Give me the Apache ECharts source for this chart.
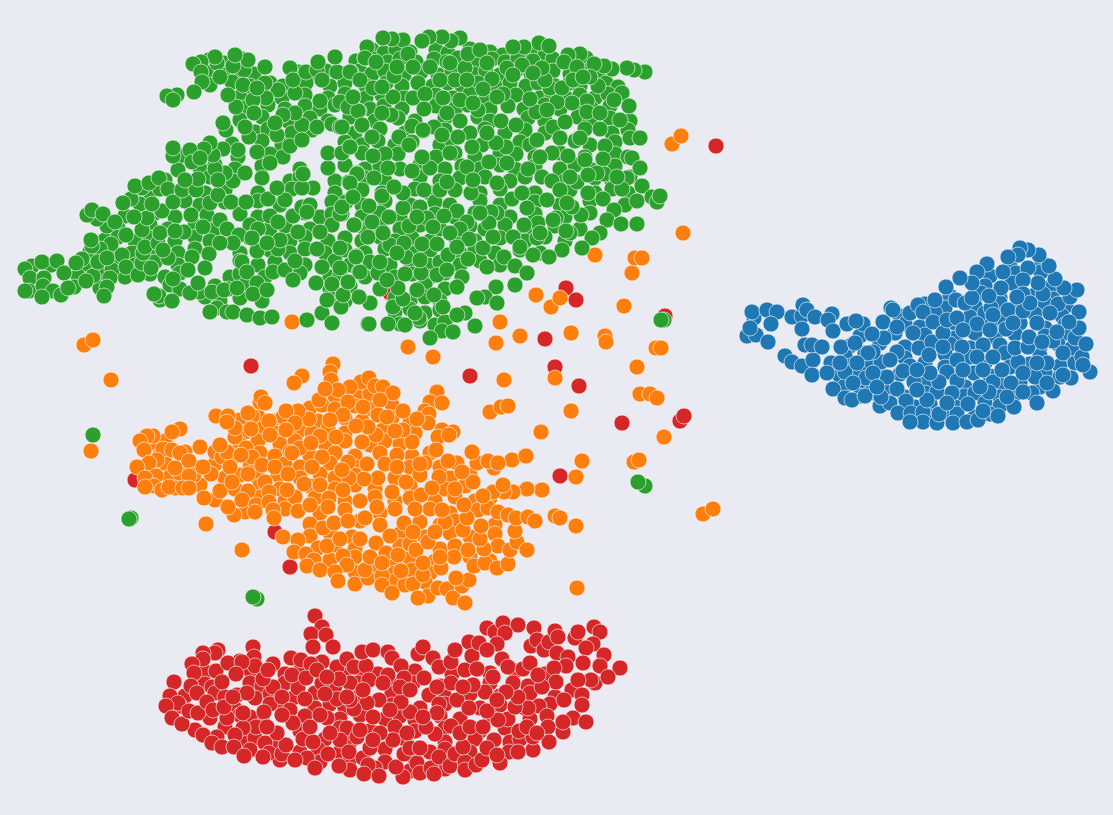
<!DOCTYPE html>
<html>
<head>
<meta charset="utf-8">
<title>clusters</title>
<script src="https://cdn.jsdelivr.net/npm/echarts@6/dist/echarts.min.js"></script>
<style>
html,body{margin:0;padding:0;background:#eaeaf2}
#chart{width:1113px;height:815px}
</style>
</head>
<body>
<div id="chart"></div>
<script>
// values, axes run over the embedding space
const blue = [[1010,266],[1042,263],[990,276],[1016,273],[1041,272],[985,286],[1012,283],[1051,287],[950,296],[981,293],[1000,298],[1035,295],[1053,299],[925,304],[945,308],[975,306],[1000,303],[1015,308],[1045,303],[1066,306],[900,316],[935,313],[970,317],[985,313],[1000,318],[1035,314],[1062,316],[905,324],[920,327],[955,323],[990,326],[1020,323],[1045,328],[1065,325],[860,336],[895,333],[925,335],[955,338],[975,333],[995,337],[1015,334],[1045,336],[1065,333],[850,346],[880,343],[905,347],[950,344],[970,348],[1000,345],[1040,347],[1058,344],[845,356],[865,353],[905,358],[945,354],[970,357],[1005,353],[1040,356],[1070,358],[850,366],[870,363],[910,366],[925,363],[945,367],[985,363],[1010,367],[1030,364],[1060,366],[1075,363],[840,376],[860,373],[880,377],[900,374],[925,377],[960,374],[990,376],[1045,373],[1060,377],[845,386],[865,383],[890,387],[925,384],[965,387],[1000,385],[1020,383],[1040,387],[860,396],[870,393],[905,397],[925,393],[965,396],[975,393],[1000,397],[1015,394],[880,406],[890,403],[915,407],[930,404],[955,407],[985,403],[1000,406],[930,416],[945,413],[975,417],[990,414],
[754,318],[752,312],[767,310],[777,312],[771,324],[747,336],[756,335],[768,342],[750,328],[792,317],[802,316],[803,305],[807,310],[815,317],[802,329],[832,314],[828,320],[833,331],[847,324],[863,324],[856,321],[785,356],[792,362],[802,366],[813,360],[812,375],[805,345],[812,345],[822,347],[831,363],[827,373],[841,347],[855,343],[845,372],[833,389],[845,398],[852,400],[865,396],[866,378],[881,362],[873,352],[868,353],[884,338],[872,334],[883,322],[891,308],[893,310],[897,327],[910,313],[918,305],[923,312],[933,322],[935,300],[913,333],[897,352],[919,348],[932,342],[929,355],[943,333],[947,320],[957,318],[956,300],[946,287],[965,303],[972,298],[977,324],[991,308],[1008,310],[1023,311],[1006,329],[993,315],[983,345],[962,347],[977,357],[947,372],[903,371],[881,397],[897,389],[914,382],[906,401],[898,413],[911,413],[923,412],[923,422],[910,422],[937,423],[939,414],[937,392],[939,382],[957,381],[952,393],[957,414],[953,423],[967,422],[978,420],[968,404],[974,373],[993,382],[989,392],[998,416],[983,411],[1014,407],[1011,383],[1002,370],[1018,362],[993,357],[1015,348],[1028,347],[1029,337],[1053,341],[1072,348],[1075,338],[1082,357],[1086,344],[1090,372],[1071,378],[1063,375],[1053,391],[1047,363],[1035,377],[1032,393],[1037,403],[1023,392],[1079,312],[1079,328],[1069,322],[1058,304],[1070,297],[1077,290],[1064,288],[1055,279],[1043,294],[1038,283],[1049,266],[1039,255],[1028,250],[1020,248],[1018,255],[1028,268],[1023,280],[1008,257],[1003,272],[987,264],[977,272],[972,283],[960,278],[1001,288],[989,296],[1023,294],[1057,332],[1042,342],[1063,353],[1083,365],[1013,323],[1037,323],[1050,313],[1030,303],[1017,297],[990,330],[963,330],[943,347],[957,360],[930,373],[917,370],[887,377],[873,373],[857,363],[840,363],[853,383],[877,387],[890,360],[980,387],[1007,397],[1047,383],[1023,373],[1037,363],[983,370],[963,370],[947,403],[927,400],[917,390]];

const red = [[716,146],[566,288],[576,300],[545,339],[665,316],[470,376],[555,367],[579,386],[622,423],[680,421],[684,416],[560,476],[251,366],[390,293],[135,480],[275,532],[290,567],[410,578],
[240,661],[291,658],[205,672],[250,670],[285,674],[300,671],[345,673],[360,670],[378,674],[415,671],[452,674],[465,670],[490,673],[515,671],[545,674],[205,684],[212,687],[250,683],[262,686],[285,683],[335,686],[358,683],[395,686],[413,683],[440,686],[490,683],[528,686],[595,683],[185,696],[215,693],[225,697],[270,694],[295,697],[315,693],[360,696],[392,693],[445,697],[470,694],[500,696],[530,693],[555,697],[180,706],[235,709],[280,705],[315,708],[330,704],[345,708],[392,705],[420,708],[445,704],[480,708],[500,705],[525,708],[550,704],[210,718],[240,715],[262,719],[305,716],[340,719],[360,715],[385,719],[400,716],[415,720],[440,716],[460,719],[490,716],[530,719],[195,730],[225,727],[300,731],[340,728],[370,731],[395,727],[415,731],[445,728],[480,731],[505,728],[245,740],[255,738],[275,742],[325,739],[350,742],[405,739],[445,742],[475,739],[510,742],[520,739],[250,750],[300,752],[318,749],[340,752],[385,749],[430,752],[445,749],[470,752],[280,760],[320,762],[350,759],[385,762],[415,759],[445,762],[350,770],[375,768],[410,771],[445,769],
[315,616],[322,627],[311,634],[326,635],[313,647],[333,647],[301,660],[322,662],[311,664],[253,647],[254,657],[255,666],[218,650],[215,653],[203,653],[203,659],[192,664],[216,671],[228,663],[242,662],[236,674],[194,673],[222,682],[191,686],[174,682],[197,693],[170,696],[178,703],[166,706],[172,718],[182,724],[189,711],[198,713],[207,702],[213,710],[227,718],[224,707],[237,695],[255,698],[273,687],[263,679],[273,664],[268,670],[247,693],[270,704],[250,717],[264,712],[282,697],[298,688],[292,675],[306,678],[322,683],[337,667],[347,659],[354,667],[366,666],[362,652],[373,650],[388,652],[392,658],[401,666],[369,680],[350,683],[339,679],[388,675],[404,678],[418,654],[423,647],[433,658],[439,667],[451,662],[455,650],[469,642],[472,656],[479,643],[487,628],[495,632],[503,623],[518,625],[505,633],[497,644],[487,650],[502,659],[508,667],[523,669],[534,628],[531,646],[537,640],[530,663],[544,650],[549,642],[555,631],[558,637],[575,638],[578,632],[594,627],[600,632],[593,644],[586,648],[557,653],[568,657],[604,655],[600,666],[620,668],[608,677],[591,680],[583,663],[566,666],[554,668],[556,682],[542,687],[538,675],[572,690],[578,680],[582,695],[564,700],[582,705],[539,706],[528,708],[547,716],[548,727],[563,732],[573,718],[563,722],[586,722],[549,742],[533,750],[533,737],[519,731],[527,727],[508,719],[498,720],[515,707],[518,697],[513,683],[506,692],[487,711],[485,692],[473,685],[477,669],[457,700],[451,683],[424,678],[429,695],[439,704],[469,708],[451,726],[435,734],[426,727],[410,712],[401,702],[379,700],[367,703],[373,717],[354,709],[337,699],[325,694],[305,699],[290,710],[293,723],[282,715],[256,727],[243,728],[235,735],[217,737],[203,735],[212,743],[222,747],[234,747],[244,756],[265,743],[269,753],[263,757],[282,754],[286,745],[303,739],[313,742],[327,718],[320,715],[347,728],[357,737],[340,740],[328,754],[307,758],[295,760],[315,768],[339,766],[349,752],[363,758],[370,748],[368,765],[364,774],[379,776],[403,777],[396,767],[404,754],[417,763],[420,773],[431,768],[434,774],[439,757],[450,766],[455,754],[465,762],[465,770],[476,765],[482,760],[463,747],[393,740],[380,733],[373,740],[410,748],[420,748],[494,740],[487,748],[509,752],[500,763],[497,755],[518,752],[537,733],[350,700],[383,683],[400,687],[407,733],[437,713],[460,733],[470,727],[423,717],[390,710],[360,730],[330,733],[310,727],[277,733],[267,727],[243,713],[233,697],[317,670],[327,677],[347,697],[363,690],[410,690],[437,687],[463,687],[493,677],[497,700],[483,727]];

const orange = [[84,345],[93,340],[111,380],[91,451],[408,347],[433,357],[500,322],[496,343],[520,336],[571,333],[605,336],[606,342],[536,295],[551,307],[560,298],[624,306],[595,255],[632,273],[635,258],[642,258],[683,233],[672,144],[681,136],[656,348],[661,348],[637,367],[640,394],[650,394],[657,398],[664,437],[555,378],[504,380],[571,411],[490,412],[501,407],[508,406],[541,432],[634,462],[639,460],[576,477],[582,461],[525,456],[541,490],[576,526],[577,588],[703,514],[713,509],[292,322],
[335,396],[345,393],[358,397],[370,394],[310,408],[322,405],[335,409],[355,406],[370,409],[392,405],[240,420],[258,417],[272,421],[305,418],[318,421],[345,418],[362,421],[392,418],[410,421],[245,432],[262,429],[275,433],[300,430],[312,433],[328,429],[345,433],[383,430],[415,433],[150,443],[165,441],[240,444],[258,441],[280,444],[295,441],[325,444],[345,441],[370,445],[385,441],[400,444],[160,455],[185,452],[235,456],[260,453],[275,456],[290,452],[310,456],[335,453],[355,456],[380,453],[412,456],[430,453],[150,466],[165,463],[195,467],[215,464],[250,467],[285,464],[300,467],[330,463],[355,467],[385,464],[410,467],[425,463],[440,467],[170,477],[180,474],[225,478],[240,475],[258,478],[278,475],[300,478],[320,474],[335,478],[355,475],[395,478],[420,475],[450,478],[470,475],[175,488],[200,485],[235,489],[260,486],[280,489],[310,486],[335,489],[355,485],[375,489],[410,486],[445,489],[465,486],[215,500],[260,497],[285,501],[315,498],[345,501],[375,497],[395,501],[410,498],[435,501],[455,497],[475,501],[490,498],[245,512],[285,509],[320,513],[345,510],[380,513],[430,509],[450,513],[478,510],[310,524],[360,521],[380,525],[420,522],[440,525],[455,521],[495,525],[310,536],[330,533],[352,537],[400,534],[425,537],[450,533],[470,537],[495,534],[318,548],[335,545],[355,549],[400,546],[440,549],[455,546],[330,560],[355,557],[395,561],[410,558],[435,561],[470,557],[490,561],[355,572],[375,569],[395,573],[412,570],[430,573],[355,584],[395,581],[405,585],[425,582],
[333,364],[330,372],[331,380],[302,376],[294,383],[361,382],[369,378],[350,387],[338,390],[375,386],[383,387],[393,393],[380,400],[363,407],[348,402],[319,400],[325,389],[403,411],[437,392],[430,402],[442,403],[425,411],[429,414],[428,423],[417,419],[442,430],[453,432],[438,437],[449,435],[412,442],[403,430],[395,431],[376,435],[368,427],[356,426],[362,442],[378,415],[387,417],[343,415],[330,420],[320,436],[336,437],[309,419],[298,411],[283,417],[286,411],[295,423],[286,430],[269,421],[252,416],[248,413],[260,402],[261,397],[265,403],[270,435],[251,429],[235,437],[235,428],[216,416],[228,416],[227,422],[200,447],[180,429],[172,432],[153,436],[147,436],[140,441],[144,450],[163,449],[172,450],[180,453],[189,461],[157,460],[149,463],[137,467],[175,468],[194,475],[189,476],[156,476],[145,478],[154,486],[145,487],[162,490],[169,487],[183,488],[189,488],[204,498],[206,524],[242,550],[211,474],[203,467],[220,491],[215,452],[222,457],[230,467],[246,448],[252,457],[248,474],[232,482],[227,452],[220,445],[241,455],[262,465],[275,467],[288,474],[265,482],[269,492],[248,491],[242,500],[256,505],[234,515],[228,507],[255,512],[269,502],[273,510],[274,518],[283,537],[298,540],[294,552],[306,554],[314,560],[307,566],[320,570],[327,546],[323,528],[334,523],[348,521],[340,539],[343,556],[347,565],[335,572],[338,581],[368,578],[365,570],[382,576],[382,585],[392,593],[401,571],[413,584],[423,575],[428,596],[418,598],[438,588],[447,589],[453,598],[462,586],[469,580],[456,578],[465,603],[441,568],[454,557],[440,557],[468,550],[474,566],[485,563],[497,568],[508,564],[498,546],[510,550],[517,542],[527,550],[515,531],[484,549],[480,539],[481,526],[463,530],[445,522],[442,510],[467,518],[464,505],[488,508],[498,512],[508,515],[516,518],[528,517],[535,521],[555,516],[560,518],[542,490],[527,489],[513,492],[504,492],[493,492],[503,485],[473,482],[455,489],[483,496],[477,463],[472,452],[457,463],[448,461],[494,468],[488,461],[512,460],[526,456],[498,463],[462,472],[439,477],[436,450],[420,464],[397,455],[397,467],[378,478],[364,479],[367,464],[348,462],[349,478],[342,470],[322,457],[312,467],[300,448],[292,453],[311,443],[320,485],[304,484],[295,497],[298,511],[310,505],[329,498],[343,490],[360,501],[377,507],[365,518],[328,507],[287,490],[406,482],[392,492],[421,495],[432,488],[415,509],[395,509],[404,523],[390,536],[360,539],[376,543],[386,553],[410,544],[416,550],[428,542],[423,563],[398,555],[370,557],[382,563],[435,532],[413,532]];

const green = [[93,435],[664,320],[661,320],[645,486],[638,482],[131,518],[129,519],[257,599],[253,597],
[372,50],[384,53],[396,49],[410,52],[436,50],[448,53],[470,49],[490,52],[503,55],[531,52],[545,55],[209,60],[224,63],[242,59],[356,61],[371,58],[388,62],[400,59],[416,62],[434,59],[447,62],[458,58],[476,62],[492,59],[505,62],[518,58],[533,61],[553,59],[572,62],[586,58],[206,72],[226,75],[238,71],[254,74],[298,72],[312,75],[326,71],[344,74],[360,71],[372,74],[385,71],[404,75],[421,72],[438,75],[452,71],[474,74],[486,71],[500,75],[516,71],[531,74],[553,71],[570,74],[585,71],[598,74],[210,85],[232,82],[250,86],[270,83],[283,86],[306,83],[330,86],[345,83],[366,86],[386,83],[402,86],[418,83],[433,86],[448,83],[462,86],[478,83],[495,86],[510,83],[526,86],[538,83],[555,86],[570,83],[580,86],[606,83],[618,87],[240,97],[262,94],[282,98],[305,95],[328,98],[345,94],[366,98],[382,95],[404,98],[436,95],[453,98],[470,94],[486,98],[516,95],[540,98],[552,94],[566,98],[580,95],[595,98],[608,94],[243,108],[268,105],[285,109],[305,106],[320,109],[335,105],[370,109],[384,106],[402,109],[436,106],[455,109],[468,105],[490,109],[508,106],[524,109],[545,105],[560,109],[578,106],[592,109],[610,106],[240,120],[262,117],[288,121],[310,118],[328,121],[350,117],[375,121],[398,118],[415,121],[445,118],[460,121],[478,117],[490,121],[528,118],[545,121],[578,117],[590,121],[610,118],[630,121],[255,132],[268,129],[292,133],[312,130],[355,133],[380,129],[405,133],[445,130],[470,133],[485,129],[505,133],[525,130],[545,133],[585,129],[612,133],[628,130],[232,144],[262,141],[282,145],[345,142],[362,145],[378,141],[395,145],[412,142],[440,145],[452,141],[482,145],[520,142],[530,145],[575,141],[590,145],[615,142],[180,156],[215,153],[238,157],[270,154],[283,157],[362,153],[378,157],[398,154],[436,157],[455,153],[475,157],[500,154],[535,157],[560,153],[585,157],[615,154],[628,157],[200,168],[215,165],[235,169],[262,166],[300,169],[345,165],[365,169],[380,166],[400,169],[420,165],[445,169],[462,166],[480,169],[500,165],[515,169],[535,166],[560,169],[575,165],[590,169],[615,166],[165,180],[210,177],[230,181],[262,178],[290,181],[300,177],[335,181],[365,178],[385,181],[420,177],[440,181],[460,178],[510,181],[525,177],[565,181],[595,178],[612,181],[630,177],[150,192],[160,189],[205,193],[225,190],[258,193],[292,189],[335,193],[362,190],[382,193],[415,189],[430,193],[455,190],[480,193],[500,189],[535,193],[570,190],[595,193],[612,189],[628,193],[140,204],[185,201],[200,205],[225,202],[240,205],[258,201],[280,205],[332,202],[362,205],[385,201],[410,205],[435,202],[450,205],[480,201],[500,205],[535,202],[560,205],[590,201],[625,205],[125,216],[155,213],[175,217],[240,214],[258,217],[305,213],[320,217],[332,214],[362,217],[380,213],[400,217],[435,214],[455,217],[475,213],[510,217],[535,214],[565,217],[590,213],[118,228],[150,225],[168,229],[195,226],[215,229],[250,225],[270,229],[285,226],[310,229],[332,225],[365,229],[380,226],[400,229],[420,225],[440,229],[470,226],[485,229],[505,225],[525,229],[555,226],[580,229],[105,240],[118,237],[135,241],[150,238],[175,241],[195,237],[210,241],[250,238],[290,241],[305,237],[328,241],[345,238],[362,241],[380,237],[395,241],[412,238],[430,241],[455,237],[475,241],[500,238],[525,241],[545,237],[565,241],[90,252],[112,249],[132,253],[150,250],[178,253],[195,249],[240,253],[270,250],[290,253],[305,249],[325,253],[345,250],[365,253],[385,249],[415,253],[430,250],[460,253],[475,249],[495,253],[520,250],[540,253],[85,264],[120,261],[135,265],[155,262],[178,265],[240,261],[258,265],[275,262],[305,265],[335,261],[350,265],[370,262],[390,265],[410,261],[428,265],[440,262],[460,265],[480,261],[500,265],[78,276],[100,273],[125,277],[150,274],[165,277],[180,273],[230,277],[240,274],[265,277],[300,273],[330,277],[340,274],[365,277],[378,273],[395,277],[412,274],[430,277],[445,273],[462,277],[100,288],[170,285],[180,289],[215,286],[228,289],[245,285],[330,289],[350,286],[380,289],[425,285],[445,289],[160,300],[205,297],[220,301],[240,298],[262,301],[330,297],[345,301],[395,298],[410,301],[425,297],[440,301],[395,312],[410,309],[425,313],[440,310],[465,313],[400,324],[420,321],[435,325],[445,322],
[32,266],[51,265],[25,269],[42,262],[57,261],[64,273],[30,278],[44,278],[29,291],[43,286],[53,291],[42,297],[61,295],[25,291],[74,287],[68,288],[93,276],[86,281],[112,270],[110,278],[107,287],[104,296],[82,259],[76,263],[122,255],[111,244],[100,249],[92,246],[91,240],[126,235],[107,226],[97,219],[87,215],[92,210],[103,214],[115,222],[98,262],[107,258],[126,267],[138,275],[142,263],[151,268],[143,253],[145,247],[158,243],[160,233],[142,230],[147,218],[162,211],[152,204],[134,217],[131,199],[123,203],[142,188],[135,186],[149,183],[159,178],[168,189],[178,170],[173,202],[182,190],[196,190],[198,179],[185,180],[191,215],[207,215],[210,203],[218,195],[231,202],[246,202],[233,181],[245,173],[225,173],[215,169],[218,180],[203,227],[220,220],[227,229],[239,235],[233,243],[209,254],[220,243],[205,268],[192,257],[188,270],[184,232],[175,231],[168,258],[163,250],[173,279],[159,296],[172,301],[154,294],[200,292],[212,292],[224,290],[190,293],[198,283],[217,308],[210,312],[227,312],[233,312],[247,315],[260,318],[272,317],[307,320],[322,313],[332,323],[368,324],
[237,288],[242,262],[247,272],[257,283],[253,294],[267,290],[257,251],[278,249],[273,272],[285,270],[293,280],[295,261],[298,232],[258,229],[280,240],[267,243],[252,238],[270,216],[293,216],[278,222],[268,199],[285,200],[277,188],[302,207],[310,205],[307,212],[317,249],[320,232],[322,267],[316,283],[332,284],[343,295],[327,300],[341,307],[348,282],[359,272],[356,256],[340,248],[355,225],[342,214],[346,202],[349,182],[357,173],[328,168],[342,153],[328,153],[350,147],[313,188],[302,188],[303,174],[290,146],[270,163],[277,135],[302,125],[295,113],[320,101],[295,93],[278,90],[265,83],[266,98],[253,100],[254,113],[236,107],[228,95],[265,67],[244,70],[248,60],[233,66],[235,55],[217,63],[215,57],[201,62],[193,64],[201,72],[202,82],[194,92],[177,95],[167,96],[173,100],[220,77],[243,85],[257,88],[290,68],[293,80],[306,72],[317,70],[322,80],[337,72],[351,72],[335,57],[318,62],[365,58],[340,102],[359,111],[348,107],[317,127],[332,124],[340,127],[362,126],[302,140],[283,115],[275,123],[249,137],[245,127],[226,130],[223,123],[238,150],[223,149],[213,155],[257,152],[210,143],[204,149],[190,150],[173,156],[173,148],[192,162],[200,158],
[645,72],[634,70],[627,68],[612,69],[604,66],[594,64],[580,54],[568,55],[564,62],[577,67],[598,86],[590,77],[622,93],[614,100],[629,106],[587,101],[572,103],[557,102],[550,88],[545,80],[562,88],[542,68],[522,65],[539,43],[524,47],[513,47],[549,46],[507,68],[492,79],[483,89],[503,94],[465,68],[455,80],[468,54],[480,50],[460,38],[451,41],[442,37],[429,37],[422,41],[403,40],[392,39],[383,38],[367,47],[365,58],[376,62],[408,54],[413,67],[430,67],[394,76],[373,88],[393,97],[413,98],[425,94],[443,98],[424,109],[391,115],[358,111],[362,125],[342,127],[350,72],[382,113],[412,126],[423,131],[434,127],[458,137],[472,147],[478,110],[501,121],[516,125],[536,112],[530,99],[537,140],[553,127],[565,122],[600,129],[620,120],[630,138],[640,138],[605,146],[568,156],[552,153],[540,157],[516,154],[506,147],[496,143],[489,162],[507,163],[528,169],[542,177],[552,181],[577,182],[588,193],[603,159],[604,174],[632,158],[640,168],[627,178],[642,186],[622,189],[603,199],[637,201],[652,197],[657,202],[660,196],[614,210],[607,220],[621,224],[637,224],[600,233],[592,238],[582,248],[562,250],[570,233],[566,231],[581,215],[556,218],[572,207],[538,223],[524,225],[527,208],[512,199],[497,213],[491,212],[489,223],[480,213],[457,211],[467,222],[460,229],[469,239],[483,248],[504,257],[513,237],[533,255],[549,257],[537,238],[515,266],[527,273],[515,285],[496,287],[485,297],[477,298],[497,303],[475,326],[457,315],[442,331],[453,332],[443,307],[434,295],[419,318],[405,325],[388,324],[369,324],[393,307],[403,299],[398,288],[417,290],[370,303],[359,297],[343,295],[457,287],[430,338],[415,313],[437,275],[421,273],[405,274],[387,280],[360,272],[348,282],[356,257],[340,268],[406,257],[422,244],[437,244],[448,255],[447,270],[468,259],[487,267],[390,245],[404,243],[368,237],[354,225],[372,222],[389,217],[409,226],[403,208],[420,207],[427,218],[444,216],[382,196],[369,206],[403,193],[394,187],[374,178],[357,174],[350,183],[340,214],[424,190],[440,190],[447,182],[471,193],[485,177],[412,171],[430,168],[422,157],[385,154],[388,168],[373,156],[372,137],[399,137],[409,145],[423,130],[442,135],[342,153],[350,147],
[585,160],[580,138],[597,173],[560,190],[570,177],[588,175],[617,177],[560,138],[587,112],[600,113],[547,110],[497,97],[487,133],[450,153],[467,167],[473,180],[497,183],[522,193],[547,200],[567,203],[553,220],[540,233],[493,237],[520,247],[417,217],[433,227],[450,233],[383,233],[457,247],[397,253],[420,260],[380,262],[342,207],[353,197],[353,97],[360,80],[382,87],[397,67],[440,80],[450,63],[447,113],[460,100],[473,103],[467,80],[487,63],[513,75],[533,73],[573,80],[583,77]];

const groups = [
  {name: 'blue', points: blue, color: '#1f77b4'},
  {name: 'red', points: red, color: '#d62728'},
  {name: 'orange', points: orange, color: '#ff7f0e'},
  {name: 'green', points: green, color: '#2ca02c'}
];

var myChart = echarts.init(document.getElementById('chart'));

var option = {
    backgroundColor: '#eaeaf2',
    animation: false,
    grid: {left: 0, right: 0, top: 0, bottom: 0},
    xAxis: {type: 'value', min: 0, max: 1113, show: false},
    yAxis: {type: 'value', min: 0, max: 815, inverse: true, show: false},
    series: groups.map(g => ({
        name: g.name,
        type: 'scatter',
        data: g.points,
        symbolSize: 16,
        itemStyle: {
            color: g.color,
            opacity: 1,
            borderColor: 'rgba(255,255,255,0.75)',
            borderWidth: 0.8
        }
    }))
};

myChart.setOption(option);
</script>
</body>
</html>
